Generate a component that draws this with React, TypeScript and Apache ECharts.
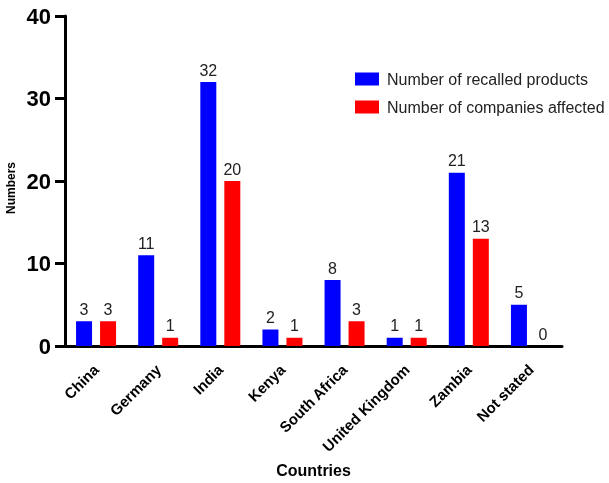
import React, { useEffect, useRef } from "react";
import * as echarts from "echarts";

const categories = ["China", "Germany", "India", "Kenya", "South Africa", "United Kingdom", "Zambia", "Not stated"];
const recalledProducts = [3, 11, 32, 2, 8, 1, 21, 5];
const companiesAffected = [3, 1, 20, 1, 3, 1, 13, 0];
const yTicks = { min: 0, max: 40, interval: 10 };

const FONT = "'Liberation Sans', Arial, Helvetica, sans-serif";

export default function App() {
  const ref = useRef<HTMLDivElement>(null);
  useEffect(() => {
    if (!ref.current) return;
    const chart = echarts.init(ref.current, null, { renderer: "svg" });
    const labelStyle = {
      show: true,
      position: "top" as const,
      fontSize: 16,
      color: "#222",
      fontFamily: FONT,
      distance: 4,
    };
    chart.setOption({
      animation: false,
      textStyle: { fontFamily: FONT },
      grid: { left: 65, right: 47, top: 16, bottom: 136, containLabel: false },
      legend: {
        orient: "vertical",
        left: 350,
        top: 66,
        itemWidth: 24,
        itemHeight: 13,
        itemGap: 12,
        icon: "rect",
        textStyle: { fontSize: 16, color: "#222", fontFamily: FONT, padding: [0, 0, 0, 3] },
        data: ["Number of recalled products", "Number of companies affected"],
      },
      graphic: [
        {
          type: "text",
          x: 11,
          y: 188,
          rotation: Math.PI / 2,
          style: {
            text: "Numbers",
            fontSize: 12,
            fontWeight: "bold",
            fill: "#000",
            fontFamily: FONT,
            textAlign: "center",
            textVerticalAlign: "middle",
          },
        },
      ],
      xAxis: {
        type: "category",
        data: categories,
        name: "Countries",
        nameLocation: "middle",
        nameGap: 116,
        nameTextStyle: { fontSize: 16, fontWeight: "bold", color: "#000", fontFamily: FONT },
        axisLine: { lineStyle: { color: "#000", width: 3 } },
        axisTick: { alignWithLabel: true, length: 10, lineStyle: { color: "#000", width: 3 } },
        axisLabel: {
          interval: 0,
          rotate: 45,
          fontSize: 15,
          fontWeight: "bold",
          color: "#000",
          margin: 21,
          fontFamily: FONT,
        },
      },
      yAxis: {
        type: "value",
        min: yTicks.min,
        max: yTicks.max,
        interval: yTicks.interval,
        splitLine: { show: false },
        axisLine: { show: true, lineStyle: { color: "#000", width: 3 } },
        axisTick: { show: true, length: 10, lineStyle: { color: "#000", width: 3 } },
        axisLabel: { fontSize: 22, fontWeight: "bold", color: "#000", margin: 14, fontFamily: FONT },
      },
      series: [
        {
          name: "Number of recalled products",
          type: "bar",
          data: recalledProducts,
          barWidth: 16,
          barGap: "50%",
          itemStyle: { color: "#0000FF" },
          label: labelStyle,
        },
        {
          name: "Number of companies affected",
          type: "bar",
          data: companiesAffected,
          barWidth: 16,
          itemStyle: { color: "#FF0000" },
          label: labelStyle,
        },
      ],
    });
    return () => chart.dispose();
  }, []);
  return (
    <div
      ref={ref}
      style={{ position: "fixed", left: 0, top: 0, width: 609, height: 483 }}
    />
  );
}
